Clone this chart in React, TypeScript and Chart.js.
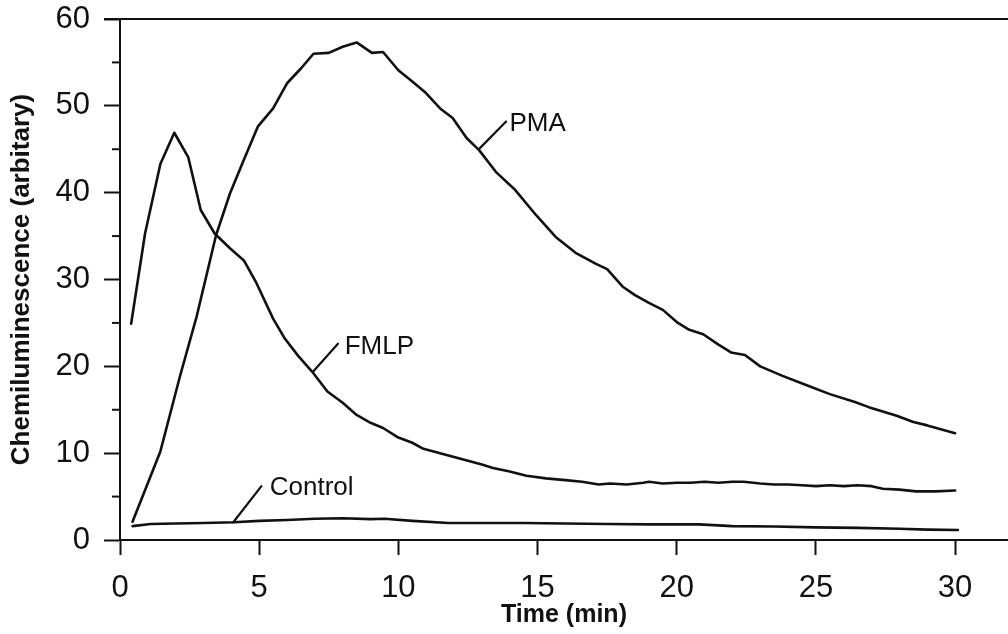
import React, { useEffect, useRef } from "react";
import { Chart, registerables } from "chart.js";

Chart.register(...registerables);

const FONT = "'Liberation Sans', Arial, Helvetica, sans-serif";
const INK = "#111111";

// ---- data ----
const pmaTime = [0.45, 1.45, 2.15, 2.75, 3.45, 3.95, 4.45, 4.95, 5.5, 6.0, 6.5, 6.95, 7.5, 8.0, 8.5, 9.05, 9.45, 10.0, 10.5, 10.95, 11.5, 11.95, 12.45, 12.9, 13.5, 14.2, 14.95, 15.65, 16.4, 17.1, 17.5, 18.05, 18.5, 19.0, 19.5, 20.0, 20.45, 20.95, 21.5, 21.95, 22.45, 23.0, 23.8, 24.6, 25.5, 26.4, 26.9, 27.9, 28.5, 29.0, 30.0];
const pmaValue = [2.1, 10.2, 18.8, 25.7, 35.1, 39.9, 43.8, 47.6, 49.7, 52.6, 54.3, 56.0, 56.1, 56.8, 57.3, 56.1, 56.2, 54.1, 52.8, 51.6, 49.7, 48.6, 46.3, 44.9, 42.4, 40.3, 37.4, 34.9, 33.0, 31.8, 31.2, 29.2, 28.2, 27.3, 26.5, 25.1, 24.2, 23.7, 22.5, 21.6, 21.3, 20.0, 18.9, 17.9, 16.8, 15.9, 15.3, 14.3, 13.6, 13.2, 12.3];

const fmlpTime = [0.4, 0.9, 1.45, 1.95, 2.45, 2.9, 3.4, 3.95, 4.45, 4.9, 5.5, 5.9, 6.4, 6.9, 7.45, 8.0, 8.5, 9.0, 9.45, 10.0, 10.5, 10.9, 11.5, 12.3, 13.0, 13.4, 14.0, 14.6, 15.3, 16.0, 16.6, 17.2, 17.6, 18.2, 18.8, 19.0, 19.5, 20.0, 20.5, 21.0, 21.5, 22.0, 22.4, 23.0, 23.5, 24.0, 24.5, 25.0, 25.5, 26.0, 26.5, 27.0, 27.4, 28.0, 28.6, 29.3, 30.0];
const fmlpValue = [24.9, 35.3, 43.3, 46.9, 44.1, 38.0, 35.3, 33.6, 32.2, 29.6, 25.5, 23.3, 21.2, 19.4, 17.1, 15.8, 14.4, 13.5, 12.9, 11.8, 11.2, 10.5, 10.0, 9.3, 8.7, 8.3, 7.9, 7.4, 7.1, 6.9, 6.7, 6.4, 6.5, 6.4, 6.6, 6.7, 6.5, 6.6, 6.6, 6.7, 6.6, 6.7, 6.7, 6.5, 6.4, 6.4, 6.3, 6.2, 6.3, 6.2, 6.3, 6.2, 5.9, 5.8, 5.6, 5.6, 5.7];

const controlTime = [0.45, 1.1, 2.0, 3.0, 4.1, 5.0, 6.0, 7.0, 8.0, 9.0, 9.5, 10.5, 11.8, 13.0, 14.5, 16.0, 17.5, 19.0, 20.8, 22.0, 23.5, 25.0, 26.5, 28.0, 29.0, 30.1];
const controlValue = [1.6, 1.85, 1.9, 1.95, 2.05, 2.2, 2.3, 2.45, 2.5, 2.4, 2.45, 2.2, 1.95, 1.95, 1.95, 1.9, 1.85, 1.8, 1.8, 1.6, 1.55, 1.45, 1.4, 1.3, 1.2, 1.15];

const seriesNames = ["PMA", "FMLP", "Control"];
// label text anchors (time, value) and leader lines
const labelTime = [13.99, 8.07, 5.38];
const labelValue = [47.9, 22.3, 6.0];
const leaderStartTime = [12.92, 6.94, 4.07];
const leaderStartValue = [45.1, 19.4, 2.04];
const leaderEndTime = [13.87, 7.83, 5.08];
const leaderEndValue = [48.2, 22.6, 6.2];

const yMinorTicks = [5, 15, 25, 35, 45, 55];
const xMin = 0;
const xMax = 31.9;
const yMin = 0;
const yMax = 60;

const xTitle = "Time (min)";
const yTitle = "Chemiluminescence (arbitary)";

const pts = (xs: number[], ys: number[]) => xs.map((x, i) => ({ x, y: ys[i] }));

const decorPlugin = {
  id: "decor",
  afterDatasetsDraw(chart: any) {
    const { ctx, chartArea, scales } = chart;
    const xs = scales.x;
    const ys = scales.y;
    ctx.save();
    ctx.strokeStyle = INK;
    ctx.lineWidth = 2;
    // top frame line
    ctx.beginPath();
    ctx.moveTo(chartArea.left - 16, chartArea.top);
    ctx.lineTo(chartArea.right, chartArea.top);
    ctx.stroke();
    // minor y ticks
    yMinorTicks.forEach((v) => {
      const y = ys.getPixelForValue(v);
      ctx.beginPath();
      ctx.moveTo(chartArea.left - 8, y);
      ctx.lineTo(chartArea.left, y);
      ctx.stroke();
    });
    // series labels
    ctx.fillStyle = INK;
    ctx.font = `26px ${FONT}`;
    ctx.textAlign = "left";
    ctx.textBaseline = "middle";
    seriesNames.forEach((name, i) => {
      ctx.fillText(name, xs.getPixelForValue(labelTime[i]), ys.getPixelForValue(labelValue[i]));
    });
    ctx.restore();
  },
};

export default function App() {
  const ref = useRef<HTMLCanvasElement | null>(null);

  useEffect(() => {
    if (!ref.current) return;
    const lineStyle = {
      borderColor: INK,
      borderWidth: 2.6,
      pointRadius: 0,
      tension: 0,
      fill: false,
      borderJoinStyle: "round" as const,
      borderCapStyle: "round" as const,
    };
    const leaders = seriesNames.map((n, i) => ({
      label: n + " leader",
      data: [
        { x: leaderStartTime[i], y: leaderStartValue[i] },
        { x: leaderEndTime[i], y: leaderEndValue[i] },
      ],
      ...lineStyle,
      borderWidth: 2.2,
    }));
    const chart = new Chart(ref.current, {
      type: "line",
      data: {
        datasets: [
          { label: "PMA", data: pts(pmaTime, pmaValue), ...lineStyle },
          { label: "FMLP", data: pts(fmlpTime, fmlpValue), ...lineStyle },
          { label: "Control", data: pts(controlTime, controlValue), ...lineStyle },
          ...leaders,
        ],
      },
      options: {
        responsive: false,
        animation: false,
        devicePixelRatio: 1,
        layout: { padding: { top: 19, right: 0, left: 0, bottom: 0 } },
        plugins: {
          legend: { display: false },
          tooltip: { enabled: false },
          title: { display: false },
        },
        scales: {
          x: {
            type: "linear",
            min: xMin,
            max: xMax,
            afterFit: (s: any) => {
              s.height = 94;
              s.paddingLeft = 0;
              s.paddingRight = 0;
            },
            border: { display: true, color: INK, width: 2 },
            grid: {
              drawOnChartArea: false,
              drawTicks: true,
              tickLength: 15,
              tickColor: INK,
              tickWidth: 2,
            },
            ticks: {
              stepSize: 5,
              includeBounds: false,
              color: INK,
              font: { family: FONT, size: 31 },
              padding: 15,
              maxRotation: 0,
            },
            title: {
              display: true,
              text: xTitle,
              color: INK,
              font: { family: FONT, size: 25, weight: "bold" },
              padding: { top: 0, bottom: 4 },
            },
          },
          y: {
            type: "linear",
            min: yMin,
            max: yMax,
            afterFit: (s: any) => {
              s.width = 120;
              s.paddingTop = 0;
              s.paddingBottom = 0;
            },
            border: { display: true, color: INK, width: 2 },
            grid: {
              drawOnChartArea: false,
              drawTicks: true,
              tickLength: 16,
              tickColor: INK,
              tickWidth: 2,
            },
            ticks: {
              stepSize: 10,
              color: INK,
              font: { family: FONT, size: 31 },
              padding: 14,
            },
            title: {
              display: true,
              text: yTitle,
              color: INK,
              font: { family: FONT, size: 26, weight: "bold" },
              padding: { top: 6, bottom: 0 },
            },
          },
        },
      },
      plugins: [decorPlugin],
    });
    return () => chart.destroy();
  }, []);

  return (
    <div style={{ position: "absolute", left: 0, top: 0, width: 1008, height: 634, background: "#fff" }}>
      <canvas ref={ref} width={1008} height={634} style={{ display: "block" }} />
    </div>
  );
}
